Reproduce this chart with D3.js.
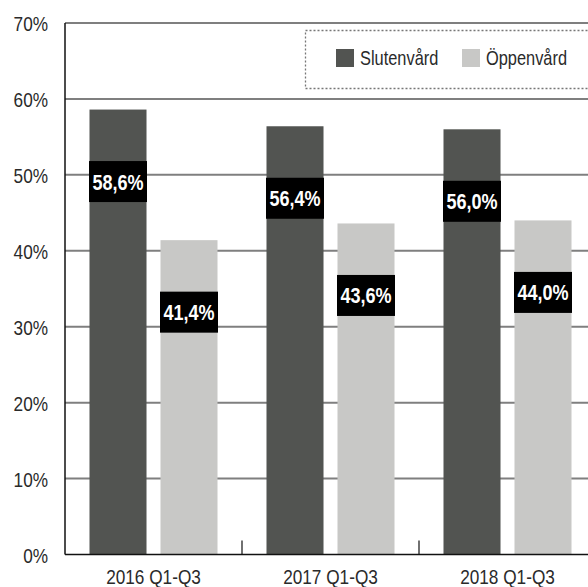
<!DOCTYPE html>
<html>
<head>
<meta charset="utf-8">
<script src="https://cdn.jsdelivr.net/npm/d3@7"></script>
<style>
  body { margin: 0; background: #fff; }
  svg { display: block; overflow: hidden; }
  text { font-family: "Liberation Sans", Arial, sans-serif; }
</style>
</head>
<body>
<svg width="588" height="587"></svg>
<script>
var categories = ['2016 Q1-Q3', '2017 Q1-Q3', '2018 Q1-Q3'];
var series = ['Slutenvård', 'Öppenvård'];
var slutenvard = [58.6, 56.4, 56.0];
var oppenvard = [41.4, 43.6, 44.0];
var yTicks = [0, 10, 20, 30, 40, 50, 60, 70];
var colors = ['#525451', '#c8c8c6'];

var svg = d3.select('svg');
var mLeft = 65, mRight = 596, mTop = 23, mBottom = 554.5;
var narrow = 0.82; // condensed look

var x = d3.scaleBand().domain(categories).range([mLeft, mRight]);
var xInner = d3.scaleBand().domain(series).range([0, x.bandwidth()])
  .paddingInner(0.197).paddingOuter(0.345);
var y = d3.scaleLinear().domain([0, 70]).range([mBottom, mTop]);
var color = d3.scaleOrdinal().domain(series).range(colors);

var data = [];
categories.forEach(function(c, i) {
  data.push({cat: c, s: series[0], v: slutenvard[i]});
  data.push({cat: c, s: series[1], v: oppenvard[i]});
});

function place(px, py) {
  return 'translate(' + px + ',' + py + ') scale(' + narrow + ',1)';
}

// gridlines
svg.append('g')
  .selectAll('line')
  .data(yTicks.filter(function(d) { return d > 0; }))
  .enter()
  .append('line')
  .attr('x1', mLeft).attr('x2', mRight)
  .attr('y1', function(d) { return y(d); })
  .attr('y2', function(d) { return y(d); })
  .attr('stroke', '#7f7f7f')
  .attr('stroke-width', 2);

// y labels
svg.append('g')
  .selectAll('text')
  .data(yTicks)
  .enter()
  .append('text')
  .attr('transform', function(d) { return place(48, y(d) + 8); })
  .attr('text-anchor', 'end')
  .attr('font-size', 21)
  .attr('fill', '#2a2a2a')
  .text(function(d) { return d + '%'; });

// bars
svg.append('g')
  .selectAll('rect')
  .data(data)
  .enter()
  .append('rect')
  .attr('x', function(d) { return x(d.cat) + xInner(d.s); })
  .attr('width', xInner.bandwidth())
  .attr('y', function(d) { return y(d.v); })
  .attr('height', function(d) { return mBottom - y(d.v); })
  .attr('fill', function(d) { return color(d.s); });

// axis lines
svg.append('line')
  .attr('x1', mLeft).attr('x2', mLeft)
  .attr('y1', mTop).attr('y2', mBottom)
  .attr('stroke', '#111').attr('stroke-width', 1.5);
svg.append('line')
  .attr('x1', mLeft).attr('x2', mRight)
  .attr('y1', mBottom).attr('y2', mBottom)
  .attr('stroke', '#111').attr('stroke-width', 1.5);

// x ticks between categories
svg.append('g')
  .selectAll('line')
  .data(categories.slice(1))
  .enter()
  .append('line')
  .attr('x1', function(d) { return x(d); })
  .attr('x2', function(d) { return x(d); })
  .attr('y1', mBottom).attr('y2', mBottom - 14)
  .attr('stroke', '#111').attr('stroke-width', 1.2);

// x labels
svg.append('g')
  .selectAll('text')
  .data(categories)
  .enter()
  .append('text')
  .attr('transform', function(d) { return place(x(d) + x.bandwidth() / 2, 584); })
  .attr('text-anchor', 'middle')
  .attr('font-size', 21)
  .attr('fill', '#2a2a2a')
  .text(function(d) { return d; });

// value labels
var lab = svg.append('g')
  .selectAll('g')
  .data(data)
  .enter()
  .append('g')
  .attr('transform', function(d) {
    return 'translate(' + (x(d.cat) + xInner(d.s) + xInner.bandwidth() / 2) + ',' + (y(d.v) + 72) + ')';
  });
lab.append('rect')
  .attr('x', -29).attr('y', -20.5)
  .attr('width', 58).attr('height', 41)
  .attr('fill', '#000');
lab.append('text')
  .attr('transform', place(0, 8))
  .attr('text-anchor', 'middle')
  .attr('font-size', 22)
  .attr('font-weight', 'bold')
  .attr('fill', '#fff')
  .text(function(d) { return d3.format('.1f')(d.v).replace('.', ',') + '%'; });

// legend
var legend = svg.append('g');
legend.append('rect')
  .attr('x', 305.5).attr('y', 30.5)
  .attr('width', 300).attr('height', 58)
  .attr('fill', '#fff')
  .attr('stroke', '#777')
  .attr('stroke-width', 1.3)
  .attr('stroke-dasharray', '2,2');
var legX = [336, 462];
var items = legend.selectAll('.item')
  .data(series)
  .enter()
  .append('g')
  .attr('transform', function(d, i) { return 'translate(' + legX[i] + ',49)'; });
items.append('rect')
  .attr('width', 18).attr('height', 18)
  .attr('fill', function(d) { return color(d); });
items.append('text')
  .attr('transform', place(24, 16))
  .attr('font-size', 20)
  .attr('fill', '#2a2a2a')
  .text(function(d) { return d; });
</script>
</body>
</html>
